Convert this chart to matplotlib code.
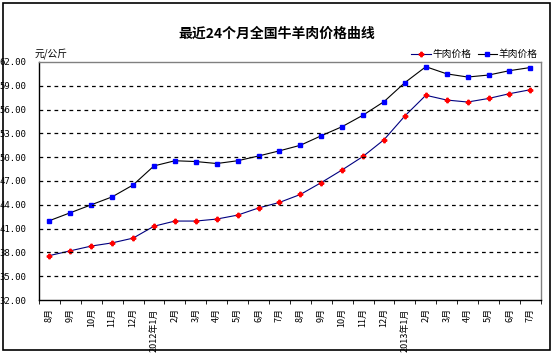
import matplotlib
matplotlib.use("Agg")
import matplotlib.pyplot as plt
from matplotlib.patches import Rectangle

plt.rcParams['font.family'] = ['Noto Sans CJK SC', 'DejaVu Sans']

# -----------------------
# DATA
months = ['8月', '9月', '10月', '11月', '12月', '2012年1月', '2月', '3月', '4月', '5月',
          '6月', '7月', '8月', '9月', '10月', '11月', '12月', '2013年1月', '2月', '3月',
          '4月', '5月', '6月', '7月']

beef = [37.6, 38.2, 38.8, 39.2, 39.8, 41.3, 41.95, 41.95, 42.2, 42.7,
        43.6, 44.3, 45.3, 46.8, 48.4, 50.1, 52.2, 55.2, 57.8, 57.2,
        56.95, 57.4, 58.0, 58.5]

mutton = [42.0, 43.0, 44.0, 45.0, 46.5, 48.9, 49.55, 49.45, 49.2, 49.55,
          50.15, 50.8, 51.5, 52.7, 53.85, 55.3, 57.0, 59.4, 61.4, 60.5,
          60.1, 60.35, 60.9, 61.3]

yticks = [32, 35, 38, 41, 44, 47, 50, 53, 56, 59, 62]

# -----------------------
# PLOT
fig = plt.figure(figsize=(5.53, 3.54), dpi=100)
ax = fig.add_axes([0.0705, 0.1525, 0.9075, 0.6725])

x = list(range(len(months)))
ax.plot(x, beef, color='#000080', linewidth=0.8, marker='P', markersize=3.2,
        markerfacecolor='red', markeredgecolor='red', label='牛肉价格')
ax.plot(x, mutton, color='black', linewidth=0.8, marker='s', markersize=3.5,
        markerfacecolor='blue', markeredgecolor='blue', label='羊肉价格')

ax.set_xlim(-0.5, len(months) - 0.5)
ax.set_ylim(32, 62)

# dashed grid lines
for v in yticks[1:-1]:
    ax.axhline(v, color='black', linestyle=(0, (3, 3)), linewidth=0.9)

ax.set_yticks(yticks)
ax.set_yticklabels(['%.2f' % v for v in yticks], fontsize=6.5, family='DejaVu Sans Mono')
ax.tick_params(axis='y', length=0, pad=9)

ax.set_xticks(x)
ax.set_xticklabels(months, rotation=90, fontsize=6.5)
ax.set_xticks([i - 0.5 for i in range(len(months) + 1)], minor=True)
ax.tick_params(axis='x', which='major', length=0, pad=6)
ax.tick_params(axis='x', which='minor', length=3, direction='out', color='black')

ax.spines['left'].set_color('black')
ax.spines['bottom'].set_color('black')
ax.spines['top'].set_color('#808080')
ax.spines['right'].set_color('#808080')
for s in ax.spines.values():
    s.set_linewidth(1.0)

fig.text(0.5, 0.905, '最近24个月全国牛羊肉价格曲线', ha='center', va='center',
         fontsize=10, fontweight='bold')
fig.text(0.062, 0.848, '元/公斤', ha='left', va='center', fontsize=7, style='italic')

ax.legend(loc='lower right', bbox_to_anchor=(1.0, 1.0), ncol=2, frameon=False,
          fontsize=7, handlelength=2.0, handletextpad=0.2, columnspacing=0.6,
          borderaxespad=0.1, borderpad=0.2)

# outer frame
fig.patches.append(Rectangle((0.006, 0.011), 0.988, 0.98, transform=fig.transFigure,
                             fill=False, edgecolor='black', linewidth=1.2))

fig.savefig('out.png', dpi=100)
